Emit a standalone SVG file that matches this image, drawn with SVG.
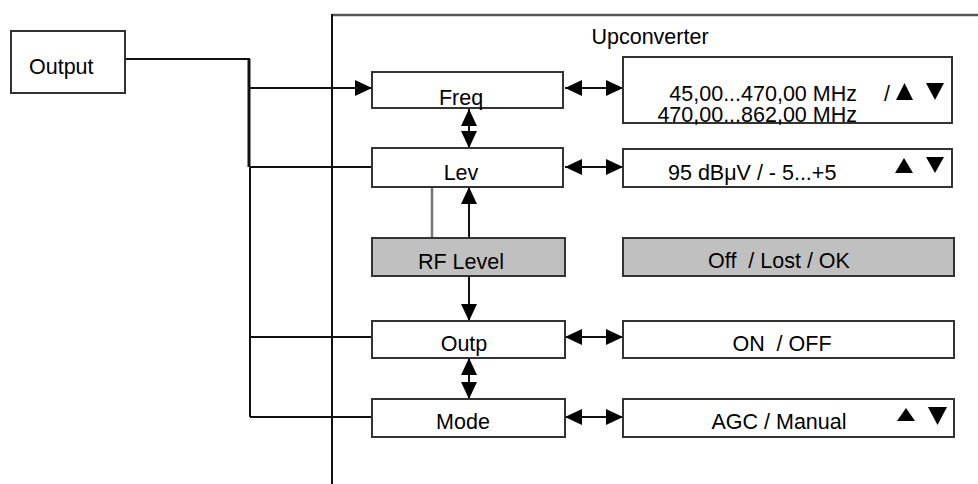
<svg xmlns="http://www.w3.org/2000/svg" width="978" height="484" viewBox="0 0 978 484">
<style>
text{font-family:"Liberation Sans",Arial,sans-serif;font-size:21.5px;fill:#000}
.box{fill:#fff;stroke:#333;stroke-width:2}
.gbox{fill:#c0c0c0;stroke:#333;stroke-width:2}
.ln{fill:none;stroke:#111;stroke-width:2}
.ah{fill:none;stroke:#111;stroke-width:2;marker-end:url(#ah)}
.dah{fill:none;stroke:#111;stroke-width:2;marker-start:url(#ah);marker-end:url(#ah)}
.tri{fill:#000}
</style>
<defs>
<marker id="ah" markerUnits="userSpaceOnUse" markerWidth="17" markerHeight="16" refX="17" refY="8" orient="auto-start-reverse" viewBox="0 0 17 16">
<path d="M0,0 L17,8 L0,16 z" fill="#000"/>
</marker>
</defs>
<g id="frame">
<line x1="332" y1="15" x2="978" y2="15" stroke="#555" stroke-width="2.5"/>
<line x1="332" y1="14" x2="332" y2="484" stroke="#111" stroke-width="2"/>
<text x="650" y="44" text-anchor="middle">Upconverter</text>
</g>
<g id="connectors">
<polyline class="ln" points="125,59 249,59 249,167"/>
<line x1="249" y1="59" x2="249" y2="167" stroke="#111" stroke-width="3"/>
<line class="ln" x1="250" y1="167" x2="250" y2="417"/>
<line class="ah" x1="249" y1="88" x2="372" y2="88"/>
<line class="ln" x1="249" y1="167" x2="372" y2="167"/>
<line class="ln" x1="250" y1="337" x2="372" y2="337"/>
<line class="ln" x1="250" y1="417" x2="372" y2="417"/>
<line class="dah" x1="565" y1="88" x2="623" y2="88"/>
<line class="dah" x1="565" y1="167" x2="623" y2="167"/>
<line class="dah" x1="565" y1="337" x2="623" y2="337"/>
<line class="dah" x1="565" y1="417" x2="623" y2="417"/>
<line class="dah" x1="469" y1="109" x2="469" y2="148"/>
<line class="dah" x1="469" y1="358" x2="469" y2="399"/>
<line x1="432" y1="187" x2="432" y2="238" stroke="#777" stroke-width="2.5"/>
<line class="ah" x1="469" y1="238" x2="469" y2="187"/>
<line class="ah" x1="469" y1="276" x2="469" y2="321"/>
</g>
<g id="output">
<rect class="box" x="11" y="31" width="114" height="62"/>
<text x="29" y="74">Output</text>
</g>
<g id="freq">
<rect class="box" x="372" y="72" width="191" height="36"/>
<text x="461" y="105" text-anchor="middle">Freq</text>
</g>
<g id="freq-value">
<rect class="box" x="623" y="57" width="329" height="66"/>
<text x="857" y="101" text-anchor="end">45,00...470,00 MHz</text>
<text x="857" y="122" text-anchor="end">470,00...862,00 MHz</text>
<text x="884" y="101">/</text>
<polygon class="tri" points="896,100 904.5,83 913,100"/>
<polygon class="tri" points="926,83 944,83 935,100"/>
</g>
<g id="lev">
<rect class="box" x="372" y="148" width="191" height="39"/>
<text x="461" y="180" text-anchor="middle">Lev</text>
</g>
<g id="lev-value">
<rect class="box" x="623" y="149" width="329" height="38"/>
<text x="668" y="180">95 dBμV / - 5...+5</text>
<polygon class="tri" points="895,173 904,158 913,173"/>
<polygon class="tri" points="926,157 944,157 935,173"/>
</g>
<g id="rf-level">
<rect class="gbox" x="372" y="238" width="193" height="38"/>
<text x="461" y="269" text-anchor="middle">RF Level</text>
</g>
<g id="rf-value">
<rect class="gbox" x="623" y="238" width="331" height="38"/>
<text x="779" y="268" text-anchor="middle" style="white-space:pre">Off  / Lost / OK</text>
</g>
<g id="outp">
<rect class="box" x="372" y="321" width="193" height="37"/>
<text x="464" y="351" text-anchor="middle">Outp</text>
</g>
<g id="outp-value">
<rect class="box" x="623" y="321" width="331" height="37"/>
<text x="782" y="351" text-anchor="middle" style="white-space:pre">ON  / OFF</text>
</g>
<g id="mode">
<rect class="box" x="372" y="399" width="193" height="38"/>
<text x="463" y="429" text-anchor="middle">Mode</text>
</g>
<g id="mode-value">
<rect class="box" x="623" y="399" width="331" height="38"/>
<text x="779" y="429" text-anchor="middle">AGC / Manual</text>
<polygon class="tri" points="897,421 906,408 915,421"/>
<polygon class="tri" points="928,407 947,407 937.5,425"/>
</g>
</svg>
